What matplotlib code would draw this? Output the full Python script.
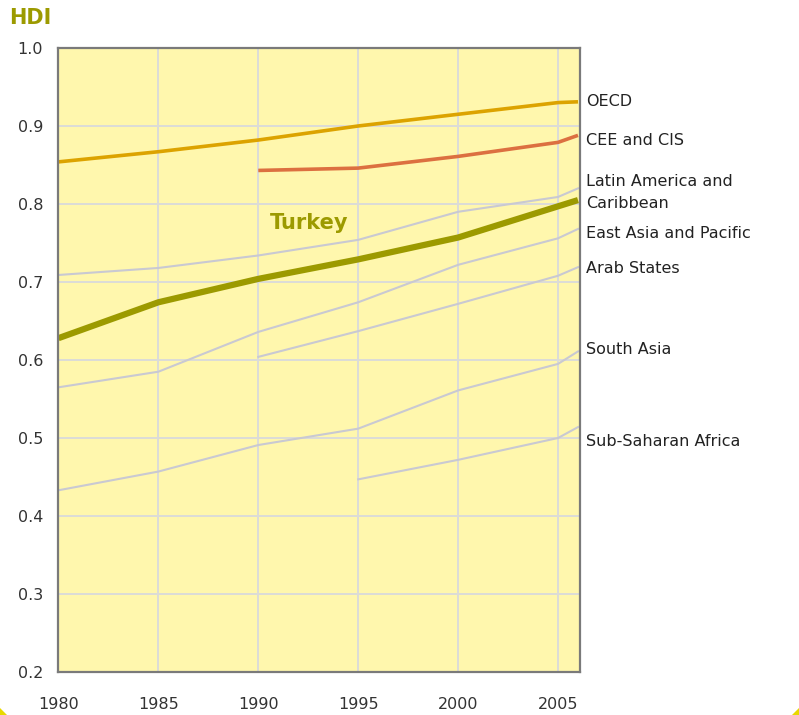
import matplotlib
matplotlib.use('Agg')
from matplotlib import pyplot as plt
from matplotlib.patches import Polygon

# HDI trends
years = [1980, 1985, 1990, 1995, 2000, 2005, 2006]

turkey = [0.628, 0.674, 0.704, 0.729, 0.757, 0.797, 0.805]
oecd = [0.854, 0.867, 0.882, 0.900, 0.915, 0.930, 0.931]
cee_cis = [None, None, 0.843, 0.846, 0.861, 0.879, 0.888]
latin_america = [0.709, 0.718, 0.734, 0.754, 0.790, 0.809, 0.820]
east_asia = [0.565, 0.585, 0.636, 0.674, 0.722, 0.756, 0.768]
arab_states = [None, None, 0.604, 0.637, 0.672, 0.708, 0.719]
south_asia = [0.433, 0.457, 0.491, 0.512, 0.561, 0.595, 0.611]
sub_saharan = [None, None, None, 0.447, 0.472, 0.500, 0.514]

region_names = ['OECD', 'CEE and CIS', 'Latin America and\nCaribbean',
                'East Asia and Pacific', 'Arab States', 'South Asia',
                'Sub-Saharan Africa']
label_y = [0.931, 0.881, 0.815, 0.762, 0.717, 0.613, 0.496]

x_ticks = [1980, 1985, 1990, 1995, 2000, 2005]
y_ticks = [0.2, 0.3, 0.4, 0.5, 0.6, 0.7, 0.8, 0.9, 1.0]

OLIVE = '#9c9a00'
GREY_LINE = '#c9c9d2'
GRID = '#dcdcd8'
FONT_SIZE = 11.5


def pairs(values):
    xs = [x for x, v in zip(years, values) if v is not None]
    ys = [v for v in values if v is not None]
    return xs, ys


def main():
    fig = plt.figure(figsize=(7.99, 7.15), dpi=100)
    ax = fig.add_axes([0.0732, 0.0601, 0.6527, 0.8728])
    ax.set_facecolor('#fff7ad')

    ax.set_xlim(1980, 2006.1)
    ax.set_ylim(0.2, 1.0)
    ax.set_xticks(x_ticks)
    ax.set_yticks(y_ticks)
    ax.set_yticklabels(['%.1f' % v for v in y_ticks])
    ax.grid(True, color=GRID, linewidth=1.4)
    ax.set_axisbelow(True)
    ax.tick_params(length=0, labelsize=FONT_SIZE, colors='#333333')
    ax.tick_params(axis='y', pad=11)
    ax.tick_params(axis='x', pad=18)
    for sp in ax.spines.values():
        sp.set_color('#7a7a7a')
        sp.set_linewidth(1.6)

    for series in [latin_america, east_asia, arab_states, south_asia, sub_saharan]:
        ax.plot(*pairs(series), color=GREY_LINE, linewidth=1.5, clip_on=False)

    ax.plot(*pairs(oecd), color='#dca300', linewidth=2.6, clip_on=False, solid_capstyle='butt')
    ax.plot(*pairs(cee_cis), color='#dc7040', linewidth=2.6, clip_on=False, solid_capstyle='butt')
    ax.plot(*pairs(turkey), color=OLIVE, linewidth=4.5, clip_on=False, solid_capstyle='butt')

    for name, y in zip(region_names, label_y):
        ax.text(2006.4, y, name, fontsize=FONT_SIZE, color='#222222',
                va='center', ha='left', linespacing=1.55)

    ax.text(1990.6, 0.776, 'Turkey', fontsize=15, fontweight='bold', color=OLIVE,
            va='center', ha='left')
    fig.text(0.012, 0.975, 'HDI', fontsize=15, fontweight='bold', color=OLIVE,
             va='center', ha='left')

    # bits of the rounded yellow frame at the bottom corners
    w, h = 799.0, 715.0
    fig.patches.append(Polygon([(0, 0), (7 / w, 0), (0, 7 / h)], closed=True,
                               transform=fig.transFigure, color='#e8d800', lw=0))
    fig.patches.append(Polygon([(1, 0), (1 - 7 / w, 0), (1, 7 / h)], closed=True,
                               transform=fig.transFigure, color='#e8d800', lw=0))

    fig.savefig('out.png', dpi=100, facecolor='white')


if __name__ == '__main__':
    main()
